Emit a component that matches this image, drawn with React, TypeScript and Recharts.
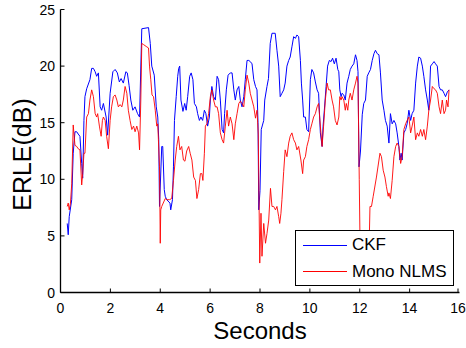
import { LineChart, Line, XAxis, YAxis, Legend, Label } from "recharts"

// time (s), ERLE (dB)
const ckfPoints: [number, number][] = [
  [0.27, 6.1], [0.31, 5.1], [0.35, 6.7], [0.45, 8.2], [0.51, 12.3], [0.58, 14.2], [0.65, 14.2], [0.71, 14.0],
  [0.78, 13.8], [0.85, 11.4], [0.89, 10.1], [0.94, 15.2], [0.98, 17.3], [1.05, 18.0], [1.18, 18.8], [1.25, 19.8],
  [1.32, 19.8], [1.39, 19.5], [1.45, 19.1], [1.52, 19.4], [1.59, 16.4], [1.65, 16.1], [1.72, 16.7], [1.83, 15.5],
  [1.89, 13.9], [1.99, 17.6], [2.1, 19.5], [2.19, 19.7], [2.28, 19.4], [2.36, 18.6], [2.43, 18.9], [2.52, 18.5],
  [2.62, 19.5], [2.68, 19.4], [2.75, 18.3], [2.82, 17.0], [2.9, 16.1], [2.99, 16.4], [3.09, 15.8], [3.17, 15.5],
  [3.26, 23.3], [3.53, 23.4], [3.6, 22.0], [3.66, 20.0], [3.76, 19.2], [3.84, 16.4], [3.9, 15.5], [3.94, 13.5],
  [3.97, 7.6], [4.06, 12.9], [4.1, 12.9], [4.16, 9.1], [4.2, 8.5], [4.26, 8.2], [4.39, 7.9], [4.42, 7.3],
  [4.49, 8.2], [4.53, 11.1], [4.57, 15.2], [4.64, 17.3], [4.7, 19.1], [4.74, 19.8], [4.78, 20.0], [4.83, 17.0],
  [4.91, 16.0], [4.98, 16.7], [5.04, 16.1], [5.1, 17.3], [5.18, 19.1], [5.24, 19.4], [5.31, 18.8], [5.37, 16.7],
  [5.45, 16.4], [5.5, 15.8], [5.57, 15.2], [5.63, 15.5], [5.7, 15.2], [5.77, 16.1], [5.83, 15.8], [5.9, 14.7],
  [5.97, 15.5], [6.01, 17.0], [6.07, 18.2], [6.14, 17.3], [6.21, 17.0], [6.28, 19.1], [6.34, 18.8], [6.41, 17.0],
  [6.48, 14.4], [6.54, 14.1], [6.58, 15.8], [6.65, 17.9], [6.72, 19.2], [6.81, 19.4], [6.88, 19.4], [6.95, 17.9],
  [7.01, 17.0], [7.08, 17.9], [7.15, 18.2], [7.21, 17.0], [7.28, 16.4], [7.35, 17.3], [7.41, 18.8], [7.48, 20.5],
  [7.55, 20.5], [7.61, 20.4], [7.68, 20.2], [7.75, 18.8], [7.82, 18.2], [7.88, 17.9], [7.92, 15.0], [7.95, 7.3],
  [8.0, 9.0], [8.05, 14.4], [8.15, 15.2], [8.19, 17.0], [8.28, 18.2], [8.34, 18.9], [8.41, 22.0], [8.48, 22.9],
  [8.61, 22.9], [8.68, 21.4], [8.75, 20.0], [8.81, 17.3], [8.88, 17.6], [8.95, 17.9], [9.01, 18.5], [9.08, 20.0],
  [9.15, 20.5], [9.21, 20.8], [9.28, 21.7], [9.35, 22.6], [9.42, 22.45], [9.48, 22.75], [9.55, 22.6], [9.62, 20.5],
  [9.66, 18.5], [9.71, 17.0], [9.75, 15.5], [9.82, 15.5], [9.88, 14.4], [9.95, 14.2], [10.02, 18.8], [10.08, 19.7],
  [10.15, 19.4], [10.22, 18.6], [10.29, 17.9], [10.35, 17.6], [10.42, 14.1], [10.49, 12.9], [10.53, 14.7], [10.58, 16.1],
  [10.65, 18.2], [10.71, 20.0], [10.78, 20.5], [10.85, 20.4], [10.91, 20.7], [10.98, 20.2], [11.05, 20.7], [11.12, 19.7],
  [11.16, 19.5], [11.2, 17.9], [11.25, 17.3], [11.29, 17.6], [11.36, 17.45], [11.42, 17.0], [11.49, 18.5], [11.56, 19.1],
  [11.62, 19.7], [11.69, 20.0], [11.76, 20.2], [11.83, 21.0], [11.89, 20.5], [11.93, 19.5], [11.97, 11.1], [12.03, 12.5],
  [12.1, 15.7], [12.16, 16.7], [12.23, 17.0], [12.3, 19.1], [12.36, 19.4], [12.43, 19.7], [12.5, 20.5], [12.57, 21.1],
  [12.63, 21.4], [12.7, 21.1], [12.77, 21.0], [12.83, 19.4], [12.9, 17.0], [12.97, 16.1], [13.03, 15.2], [13.1, 14.7],
  [13.17, 13.2], [13.23, 15.8], [13.3, 14.9], [13.37, 15.2], [13.44, 14.9], [13.5, 14.1], [13.57, 12.9], [13.61, 11.7],
  [13.66, 12.3], [13.7, 11.7], [13.77, 14.1], [13.84, 14.4], [13.9, 14.9], [13.97, 16.1], [14.04, 15.2], [14.1, 15.8],
  [14.17, 16.1], [14.24, 18.5], [14.31, 20.0], [14.37, 20.8], [14.44, 20.7], [14.51, 20.0], [14.57, 19.1], [14.64, 17.9],
  [14.71, 17.0], [14.77, 16.1], [14.84, 20.0], [14.91, 20.2], [14.98, 20.4], [15.04, 20.2], [15.11, 20.0], [15.18, 18.2],
  [15.24, 17.9], [15.31, 17.9], [15.38, 17.6], [15.44, 17.3], [15.51, 17.7], [15.58, 17.9],
]

const nlmsPoints: [number, number][] = [
  [0.27, 7.6], [0.31, 7.9], [0.35, 7.3], [0.4, 7.9], [0.45, 9.6], [0.51, 14.8], [0.58, 13.0], [0.65, 12.9],
  [0.71, 12.7], [0.78, 12.6], [0.85, 9.5], [0.89, 10.5], [0.94, 12.3], [0.98, 12.3], [1.05, 15.5], [1.12, 15.8],
  [1.18, 17.0], [1.25, 17.9], [1.32, 17.3], [1.39, 15.8], [1.45, 15.5], [1.49, 15.8], [1.56, 14.7], [1.63, 13.8],
  [1.68, 15.2], [1.72, 15.5], [1.79, 15.2], [1.85, 13.8], [1.92, 12.7], [1.99, 15.2], [2.05, 16.4], [2.12, 17.3],
  [2.19, 17.45], [2.26, 17.0], [2.32, 16.4], [2.39, 16.6], [2.46, 16.4], [2.52, 17.0], [2.59, 18.2], [2.66, 17.6],
  [2.72, 16.1], [2.79, 15.2], [2.86, 14.4], [2.93, 14.7], [2.99, 14.2], [3.06, 14.7], [3.13, 14.1], [3.17, 12.6],
  [3.22, 17.0], [3.26, 22.0], [3.33, 21.9], [3.46, 21.7], [3.53, 21.6], [3.57, 20.0], [3.62, 18.8], [3.67, 17.45],
  [3.73, 17.3], [3.8, 16.1], [3.86, 14.7], [3.9, 14.9], [3.97, 11.1], [4.0, 4.35], [4.02, 7.3], [4.06, 7.6],
  [4.2, 8.3], [4.26, 8.2], [4.37, 8.2], [4.46, 8.3], [4.53, 9.9], [4.6, 11.7], [4.66, 12.9], [4.73, 13.8],
  [4.79, 12.6], [4.86, 12.9], [4.93, 11.7], [4.99, 11.6], [5.06, 12.5], [5.14, 12.9], [5.2, 12.3], [5.27, 11.7],
  [5.34, 10.2], [5.41, 9.9], [5.47, 8.3], [5.54, 9.1], [5.61, 10.5], [5.67, 10.5], [5.71, 9.9], [5.77, 12.3],
  [5.81, 14.7], [5.87, 14.9], [5.94, 15.8], [6.01, 17.3], [6.07, 17.9], [6.14, 17.0], [6.21, 16.4], [6.28, 16.4],
  [6.34, 15.8], [6.41, 14.1], [6.48, 13.5], [6.54, 13.2], [6.61, 14.7], [6.68, 16.1], [6.74, 14.7], [6.81, 15.5],
  [6.88, 14.9], [6.95, 13.5], [7.01, 14.9], [7.08, 15.8], [7.15, 16.7], [7.21, 16.9], [7.28, 16.7], [7.35, 16.4],
  [7.41, 17.9], [7.48, 19.2], [7.55, 18.5], [7.61, 17.6], [7.68, 17.0], [7.75, 16.4], [7.82, 15.4], [7.88, 16.1],
  [7.93, 14.0], [7.99, 2.6], [8.04, 7.0], [8.08, 3.2], [8.15, 6.1], [8.22, 4.35], [8.28, 5.2], [8.35, 6.4],
  [8.42, 9.2], [8.48, 7.6], [8.55, 7.6], [8.62, 7.3], [8.68, 7.6], [8.75, 6.7], [8.79, 6.1], [8.84, 7.0],
  [8.88, 8.2], [8.95, 10.7], [9.01, 12.6], [9.08, 12.0], [9.15, 13.2], [9.21, 13.8], [9.28, 14.1], [9.35, 13.5],
  [9.42, 13.2], [9.48, 12.6], [9.55, 12.9], [9.64, 11.7], [9.71, 10.5], [9.75, 11.7], [9.82, 12.0], [9.88, 12.9],
  [9.95, 13.5], [10.02, 14.4], [10.08, 14.9], [10.15, 15.5], [10.22, 15.8], [10.29, 16.4], [10.35, 16.7], [10.42, 14.7],
  [10.49, 12.9], [10.55, 14.7], [10.62, 17.0], [10.69, 18.5], [10.75, 17.9], [10.82, 17.9], [10.89, 17.0], [10.95, 16.4],
  [11.02, 15.2], [11.09, 14.8], [11.16, 15.5], [11.2, 17.3], [11.25, 17.0], [11.29, 17.3], [11.36, 17.0], [11.42, 16.1],
  [11.46, 16.7], [11.52, 16.1], [11.56, 17.0], [11.62, 17.6], [11.69, 17.0], [11.76, 17.9], [11.83, 18.5], [11.89, 19.1],
  [11.93, 18.5], [11.98, 10.0], [12.02, 2.8], [12.1, 2.2], [12.2, 3.0], [12.3, 3.6], [12.38, 4.5], [12.41, 7.6],
  [12.47, 7.6], [12.54, 8.5], [12.67, 10.2], [12.81, 12.3], [12.87, 12.0], [12.94, 10.8], [13.01, 10.2], [13.07, 9.35],
  [13.14, 8.5], [13.17, 8.8], [13.23, 8.3], [13.3, 9.9], [13.37, 12.0], [13.44, 12.9], [13.5, 13.2], [13.57, 12.9],
  [13.64, 11.4], [13.7, 12.0], [13.77, 14.4], [13.84, 14.9], [13.9, 15.2], [13.97, 15.5], [14.04, 14.1], [14.1, 14.7],
  [14.17, 15.5], [14.24, 13.5], [14.31, 14.1], [14.37, 13.8], [14.44, 14.4], [14.51, 13.8], [14.57, 14.4], [14.64, 13.5],
  [14.71, 14.7], [14.77, 16.1], [14.84, 17.0], [14.91, 18.2], [14.98, 18.0], [15.04, 17.9], [15.11, 17.6], [15.18, 16.4],
  [15.24, 15.8], [15.31, 17.0], [15.38, 15.8], [15.44, 16.1], [15.48, 17.0], [15.54, 16.4], [15.58, 17.9],
]

const xTicks = [0, 2, 4, 6, 8, 10, 12, 14, 16]
const yTicks = [0, 5, 10, 15, 20, 25]
const seriesNames = ["CKF", "Mono NLMS"]
const seriesColors = ["#0000ff", "#ff0000"]

const FONT = "Arial, 'Liberation Sans', Helvetica, sans-serif"
const AXIS = { stroke: "#000", strokeWidth: 1.3 }

const toRows = (pts: [number, number][]) => pts.map(([t, v]) => ({ t, v }))

function BottomTick({ x, y, payload }: any) {
  return (
    <g>
      <line x1={x} y1={y} x2={x} y2={y - 4} stroke="#000" />
      <text x={x} y={y + 20} textAnchor="middle" fontSize={14} fontFamily={FONT} fill="#000">
        {payload.value}
      </text>
    </g>
  )
}

function LeftTick({ x, y, payload }: any) {
  return (
    <g>
      <line x1={x} y1={y} x2={x + 4} y2={y} stroke="#000" />
      <text x={x - 5.5} y={y + 5} textAnchor="end" fontSize={14} fontFamily={FONT} fill="#000">
        {payload.value}
      </text>
    </g>
  )
}

function TopTick({ x, y }: any) {
  return <line x1={x} y1={y} x2={x} y2={y + 4} stroke="#000" />
}

function RightTick({ x, y }: any) {
  return <line x1={x} y1={y} x2={x - 4} y2={y} stroke="#000" />
}

function LegendBox({ payload }: any) {
  const items = (payload ?? []) as Array<{ value: string; color: string }>
  return (
    <div
      style={{
        boxSizing: "border-box",
        width: 159,
        height: 56,
        background: "#fff",
        border: "1.3px solid #000",
        fontFamily: FONT,
        fontSize: 17,
        color: "#000",
        paddingTop: 1,
      }}
    >
      {items.map((it) => (
        <div key={it.value} style={{ display: "flex", alignItems: "center", height: 26.5 }}>
          <span style={{ display: "inline-block", width: 44, height: 1, background: it.color, marginLeft: 7, marginRight: 5 }} />
          <span>{it.value}</span>
        </div>
      ))}
    </div>
  )
}

export default function App() {
  return (
    <div style={{ position: "absolute", left: 0, top: 0, background: "#fff" }}>
      <LineChart width={466} height={348} margin={{ top: 9.5, right: 6.5, bottom: 0, left: 0 }}>
        <XAxis
          xAxisId={0}
          dataKey="t"
          type="number"
          domain={[0, 16]}
          ticks={xTicks}
          height={55.5}
          tickSize={0}
          tickMargin={0}
          tickLine={false}
          tick={BottomTick}
          axisLine={AXIS}
          allowDataOverflow
        >
          <Label
            content={({ viewBox }: any) => (
              <text
                x={viewBox.x + viewBox.width / 2}
                y={viewBox.y + 46.5}
                textAnchor="middle"
                fontSize={24}
                fontFamily={FONT}
                fill="#000"
              >
                Seconds
              </text>
            )}
          />
        </XAxis>
        <XAxis
          xAxisId="top"
          orientation="top"
          type="number"
          domain={[0, 16]}
          ticks={xTicks}
          height={0}
          tickSize={0}
          tickMargin={0}
          tickLine={false}
          tick={TopTick}
          axisLine={AXIS}
        />
        <YAxis
          yAxisId={0}
          type="number"
          domain={[0, 25]}
          ticks={yTicks}
          width={60.5}
          tickSize={0}
          tickMargin={0}
          tickLine={false}
          tick={LeftTick}
          axisLine={AXIS}
          allowDataOverflow
        >
          <Label
            content={({ viewBox }: any) => {
              const cx = viewBox.x + 31
              const cy = viewBox.y + 145
              return (
                <text
                  x={cx}
                  y={cy}
                  transform={`rotate(-90, ${cx}, ${cy})`}
                  textAnchor="middle"
                  fontSize={25}
                  fontFamily={FONT}
                  fill="#000"
                >
                  ERLE(dB)
                </text>
              )
            }}
          />
        </YAxis>
        <YAxis
          yAxisId="right"
          orientation="right"
          type="number"
          domain={[0, 25]}
          ticks={yTicks}
          width={0}
          tickSize={0}
          tickMargin={0}
          tickLine={false}
          tick={RightTick}
          axisLine={AXIS}
        />
        <Line
          data={toRows(ckfPoints)}
          dataKey="v"
          name={seriesNames[0]}
          stroke={seriesColors[0]}
          strokeWidth={1}
          dot={false}
          type="linear"
          isAnimationActive={false}
        />
        <Line
          data={toRows(nlmsPoints)}
          dataKey="v"
          name={seriesNames[1]}
          stroke={seriesColors[1]}
          strokeWidth={0.9}
          dot={false}
          type="linear"
          isAnimationActive={false}
        />
        <Legend
          layout="vertical"
          align="center"
          verticalAlign="middle"
          content={LegendBox}
          wrapperStyle={{ left: 295, top: 230, width: 159, height: 56 }}
        />
      </LineChart>
    </div>
  )
}
